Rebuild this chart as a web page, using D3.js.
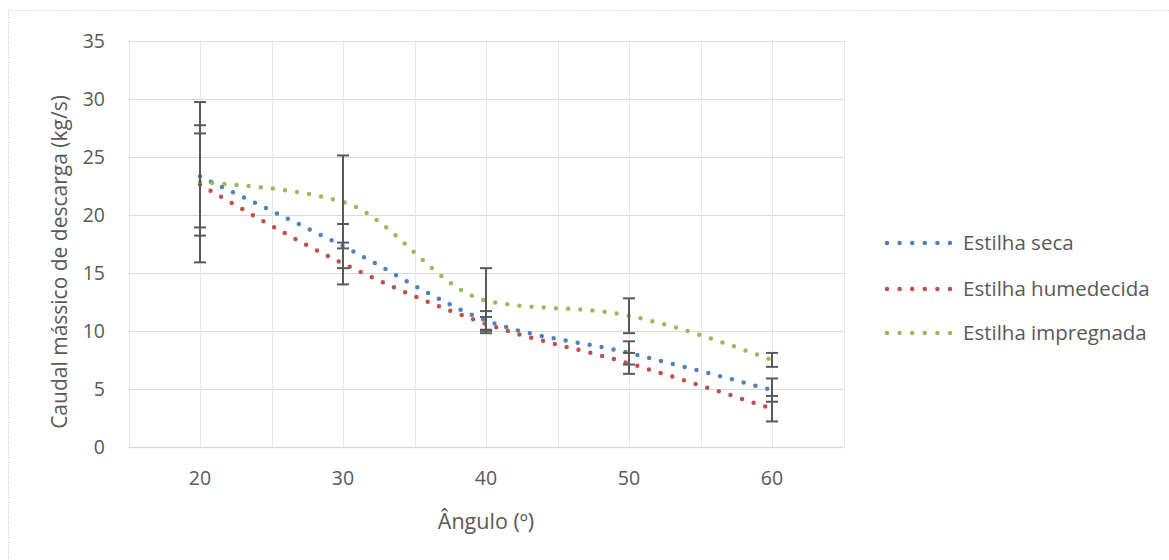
<!DOCTYPE html>
<html><head><meta charset="utf-8">
<script src="https://cdn.jsdelivr.net/npm/d3@7"></script>
<style>
html,body{margin:0;padding:0;background:#fff;}
svg text{font-family:"Open Sans", Carlito, Calibri, sans-serif;fill:#595959;}
</style></head>
<body>
<svg id="chart" width="1169" height="560"></svg>
<script>
const angles = [20, 30, 40, 50, 60];
const seriesNames = ["Estilha seca", "Estilha humedecida", "Estilha impregnada"];
const seca = [23.3, 17.3, 10.9, 8.1, 4.9];
const humedecida = [22.6, 15.8, 10.6, 7.2, 3.3];
const impregnada = [22.8, 21.1, 12.6, 11.3, 7.5];
const secaErr = [4.4, 1.9, 0.8, 1.0, 1.0];
const humedecidaErr = [4.4, 1.8, 0.6, 0.9, 1.1];
const impregnadaErr = [6.9, 4.0, 2.8, 1.5, 0.6];
const yTicks = [0, 5, 10, 15, 20, 25, 30, 35];
const xTicks = [20, 30, 40, 50, 60];
const xGrid = [15, 20, 25, 30, 35, 40, 45, 50, 55, 60, 65];
const colors = ["#4f81bd", "#c0504d", "#9bbb59"];

const series = [
  {name: seriesNames[0], values: seca, err: secaErr, color: colors[0]},
  {name: seriesNames[1], values: humedecida, err: humedecidaErr, color: colors[1]},
  {name: seriesNames[2], values: impregnada, err: impregnadaErr, color: colors[2]}
];

const svg = d3.select("#chart");
const L = 128.5, R = 843.5, T = 40.5, B = 447;
const x = d3.scaleLinear().domain([15, 65]).range([L, R]);
const y = d3.scaleLinear().domain([0, 35]).range([B, T]);

// outer dotted border
svg.append("rect").attr("x", 8.5).attr("y", 10.5).attr("width", 1200).attr("height", 600)
  .attr("fill", "none").attr("stroke", "#c8c8c8").attr("stroke-dasharray", "1,1.5");

// grid
svg.append("g").selectAll("line").data(yTicks).join("line")
  .attr("x1", L).attr("x2", R).attr("y1", d => Math.round(y(d)) + 0.5).attr("y2", d => Math.round(y(d)) + 0.5)
  .attr("stroke", "#d9d9d9").attr("stroke-width", d => d === 0 ? 1.5 : 1);
svg.append("g").selectAll("line").data(xGrid).join("line")
  .attr("y1", T).attr("y2", B).attr("x1", d => Math.round(x(d)) + 0.5).attr("x2", d => Math.round(x(d)) + 0.5)
  .attr("stroke", "#e6e6e6").attr("stroke-width", 1);

// y tick labels
svg.append("g").selectAll("text").data(yTicks).join("text")
  .attr("x", 105).attr("y", d => y(d)).attr("dy", "0.36em").attr("text-anchor", "end")
  .style("font-size", "19.5px").text(d => d);
// x tick labels
svg.append("g").selectAll("text").data(xTicks).join("text")
  .attr("x", d => x(d)).attr("y", 485).attr("text-anchor", "middle")
  .style("font-size", "19.5px").text(d => d);

// axis titles
svg.append("text").attr("x", x(40)).attr("y", 529).attr("text-anchor", "middle")
  .style("font-size", "21.5px").text("Ângulo (º)");
svg.append("text").attr("transform", "translate(67," + 262 + ") rotate(-90)").attr("text-anchor", "middle")
  .style("font-size", "21px").text("Caudal mássico de descarga (kg/s)");

// lines
const line = d3.line().x((d, i) => x(angles[i])).y(d => y(d)).curve(d3.curveMonotoneX);
series.forEach(s => {
  svg.append("path").attr("d", line(s.values)).attr("fill", "none")
    .attr("stroke", s.color).attr("stroke-width", 4.5).attr("stroke-linecap", "round")
    .attr("stroke-dasharray", "0,12.2");
});

// error bars
series.forEach(s => {
  const g = svg.append("g").attr("stroke", "#595959").attr("stroke-width", 2);
  s.values.forEach((v, i) => {
    const cx = x(angles[i]);
    const y1 = y(v + s.err[i]), y2 = y(v - s.err[i]);
    g.append("line").attr("x1", cx).attr("x2", cx).attr("y1", y1).attr("y2", y2);
    g.append("line").attr("x1", cx - 6).attr("x2", cx + 6).attr("y1", y1).attr("y2", y1);
    g.append("line").attr("x1", cx - 6).attr("x2", cx + 6).attr("y1", y2).attr("y2", y2);
  });
});

// legend
const legY = [243, 289, 333];
series.forEach((s, i) => {
  svg.append("line").attr("x1", 887).attr("x2", 951).attr("y1", legY[i]).attr("y2", legY[i])
    .attr("stroke", s.color).attr("stroke-width", 4.5).attr("stroke-linecap", "round")
    .attr("stroke-dasharray", "0,12.6");
  svg.append("text").attr("x", 963).attr("y", legY[i]).attr("dy", "0.36em")
    .style("font-size", "20.5px").text(s.name);
});
</script>
</body></html>
